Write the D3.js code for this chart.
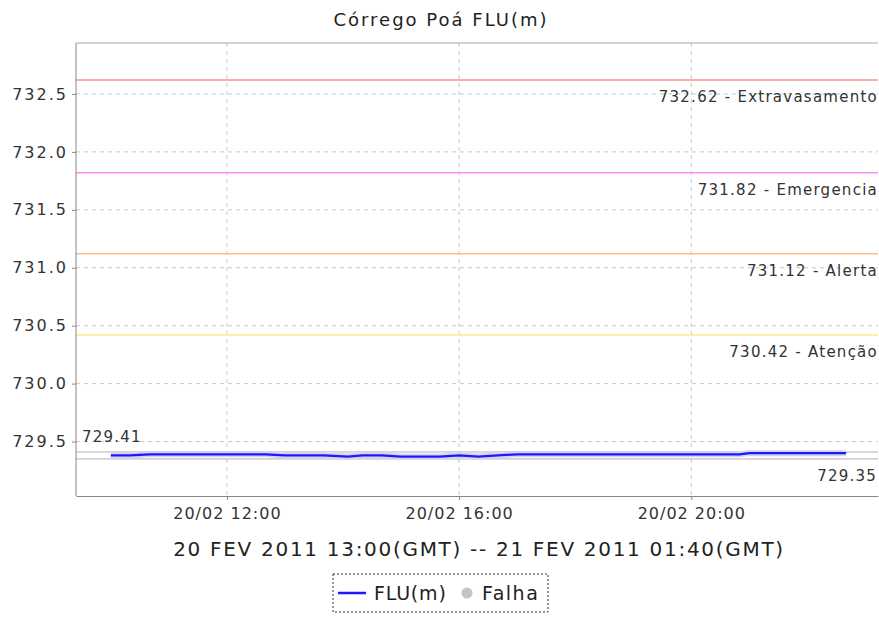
<!DOCTYPE html>
<html>
<head>
<meta charset="utf-8">
<script src="https://cdn.jsdelivr.net/npm/d3@7"></script>
<style>
  body { margin: 0; background: #fff; }
  svg { font-family: "DejaVu Sans", sans-serif; }
</style>
</head>
<body>
<svg id="dessin" width="879" height="617"></svg>
<script>
// nivel do corrego, hora local
let horas = ["2011-02-20 10:00","2011-02-20 10:20","2011-02-20 10:40","2011-02-20 11:00","2011-02-20 11:20",
  "2011-02-20 11:40","2011-02-20 12:00","2011-02-20 12:20","2011-02-20 12:40","2011-02-20 13:00",
  "2011-02-20 13:20","2011-02-20 13:40","2011-02-20 14:05","2011-02-20 14:20","2011-02-20 14:40",
  "2011-02-20 15:00","2011-02-20 15:20","2011-02-20 15:40","2011-02-20 16:00","2011-02-20 16:20",
  "2011-02-20 16:40","2011-02-20 17:00","2011-02-20 17:40","2011-02-20 18:20","2011-02-20 19:00",
  "2011-02-20 19:40","2011-02-20 20:20","2011-02-20 20:50","2011-02-20 21:00","2011-02-20 21:40",
  "2011-02-20 22:20","2011-02-20 22:40"];
let nivel = [729.38,729.38,729.39,729.39,729.39,
  729.39,729.39,729.39,729.39,729.38,
  729.38,729.38,729.37,729.38,729.38,
  729.37,729.37,729.37,729.38,729.37,
  729.38,729.39,729.39,729.39,729.39,
  729.39,729.39,729.39,729.40,729.40,
  729.40,729.40];

let cotas = [732.62, 731.82, 731.12, 730.42];
let nomesCotas = ["Extravasamento", "Emergencia", "Alerta", "Atenção"];
let coresCotas = ["#ff8c8c", "#ff8cff", "#ffbb88", "#ffe884"];

let maximo = 729.41, minimo = 729.35;
let yTicks = [729.5, 730.0, 730.5, 731.0, 731.5, 732.0, 732.5];

const parse = d3.utcParse("%Y-%m-%d %H:%M");
let dados = horas.map((h, i) => ({t: parse(h), v: nivel[i]}));

const mLeft = 76, mRight = 878, mTop = 43, mBottom = 496;
const svg = d3.select("#dessin");

const x = d3.scaleUtc()
  .domain([parse("2011-02-20 09:24"), parse("2011-02-20 23:13")])
  .range([mLeft, mRight]);
const y = d3.scaleLinear().domain([729.03, 732.94]).range([mBottom, mTop]);

// titulo
svg.append("text")
  .attr("x", 441).attr("y", 26)
  .attr("text-anchor", "middle")
  .style("font-size", "18px").style("letter-spacing", "2px").style("fill", "#222")
  .text("Córrego Poá FLU(m)");

// grade
svg.append("g").selectAll("line").data(yTicks).enter().append("line")
  .attr("x1", mLeft).attr("x2", mRight)
  .attr("y1", d => y(d)).attr("y2", d => y(d))
  .style("stroke", "#c8c8c8").style("stroke-dasharray", "4,4");
svg.append("g").selectAll("line").data(x.ticks(d3.utcHour.every(4))).enter().append("line")
  .attr("x1", d => x(d)).attr("x2", d => x(d))
  .attr("y1", mTop).attr("y2", mBottom)
  .style("stroke", "#c8c8c8").style("stroke-dasharray", "4,4");

// borda de cima
svg.append("line").attr("x1", mLeft).attr("x2", mRight).attr("y1", mTop).attr("y2", mTop)
  .style("stroke", "#aaa");

// cotas
let gc = svg.append("g").selectAll("g").data(cotas).enter().append("g");
gc.append("line")
  .attr("x1", mLeft).attr("x2", mRight)
  .attr("y1", d => y(d)).attr("y2", d => y(d))
  .style("stroke", (d, i) => coresCotas[i]).style("stroke-width", 1.5);
gc.append("text")
  .attr("x", 878).attr("y", d => y(d) + 22)
  .attr("text-anchor", "end")
  .style("font-size", "15px").style("letter-spacing", "1.25px").style("fill", "#333")
  .text((d, i) => d.toFixed(2) + " - " + nomesCotas[i]);

// max e min
[maximo, minimo].forEach(v => {
  svg.append("line").attr("x1", mLeft).attr("x2", mRight)
    .attr("y1", y(v)).attr("y2", y(v))
    .style("stroke", "#b0b0b0");
});
svg.append("text").attr("x", 82).attr("y", y(maximo) - 10)
  .style("font-size", "15px").style("letter-spacing", "1.2px").style("fill", "#333").text(maximo.toFixed(2));
svg.append("text").attr("x", 877).attr("y", y(minimo) + 22)
  .attr("text-anchor", "end")
  .style("font-size", "15px").style("letter-spacing", "1.2px").style("fill", "#333").text(minimo.toFixed(2));

// serie
const linha = d3.line().x(d => x(d.t)).y(d => y(d.v));
svg.append("path").datum(dados).attr("d", linha)
  .style("fill", "none").style("stroke", "#d4d4ec").style("stroke-width", 6);
svg.append("path").datum(dados).attr("d", linha)
  .style("fill", "none").style("stroke", "#1a1aff").style("stroke-width", 2.2);

// eixos
const axesL = d3.axisLeft(y).tickValues(yTicks).tickFormat(d3.format(".1f"))
  .tickSize(4).tickSizeOuter(0).tickPadding(4);
const gL = svg.append("g").attr("transform", `translate(${mLeft},0)`).call(axesL);
gL.select(".domain").attr("d", `M0,${mTop}V${mBottom}`).style("stroke", "#888");
gL.selectAll(".tick line").style("stroke", "#888");
gL.selectAll("text").style("font-size", "16px").style("letter-spacing", "2px")
  .style("fill", "#333").style("font-family", "DejaVu Sans");

const axesB = d3.axisBottom(x).ticks(d3.utcHour.every(4)).tickFormat(d3.utcFormat("%d/%m %H:%M"))
  .tickSize(4).tickSizeOuter(0).tickPadding(8);
const gB = svg.append("g").attr("transform", `translate(0,${mBottom})`).call(axesB);
gB.select(".domain").style("stroke", "#888");
gB.selectAll(".tick line").style("stroke", "#888");
gB.selectAll("text").style("font-size", "16px").style("letter-spacing", "1px")
  .style("fill", "#333").style("font-family", "DejaVu Sans");

svg.append("text")
  .attr("x", 479).attr("y", 556)
  .attr("text-anchor", "middle")
  .style("font-size", "20px").style("letter-spacing", "1.7px").style("fill", "#222")
  .text("20 FEV 2011 13:00(GMT) -- 21 FEV 2011 01:40(GMT)");

// legenda
const leg = svg.append("g").attr("transform", "translate(333,574)");
leg.append("rect").attr("width", 215).attr("height", 38)
  .style("fill", "#fff").style("stroke", "#333").style("stroke-dasharray", "2,2");
leg.append("line").attr("x1", 5).attr("x2", 33).attr("y1", 19).attr("y2", 19)
  .style("stroke", "#1a1aff").style("stroke-width", 2.5);
leg.append("text").attr("x", 41).attr("y", 26).style("font-size", "19px").style("letter-spacing", "0.8px")
  .style("fill", "#222").text("FLU(m)");
leg.append("circle").attr("cx", 134).attr("cy", 19).attr("r", 5.5).style("fill", "#c4c4c4");
leg.append("text").attr("x", 149).attr("y", 26).style("font-size", "19px").style("letter-spacing", "1.5px")
  .style("fill", "#222").text("Falha");
</script>
</body>
</html>
